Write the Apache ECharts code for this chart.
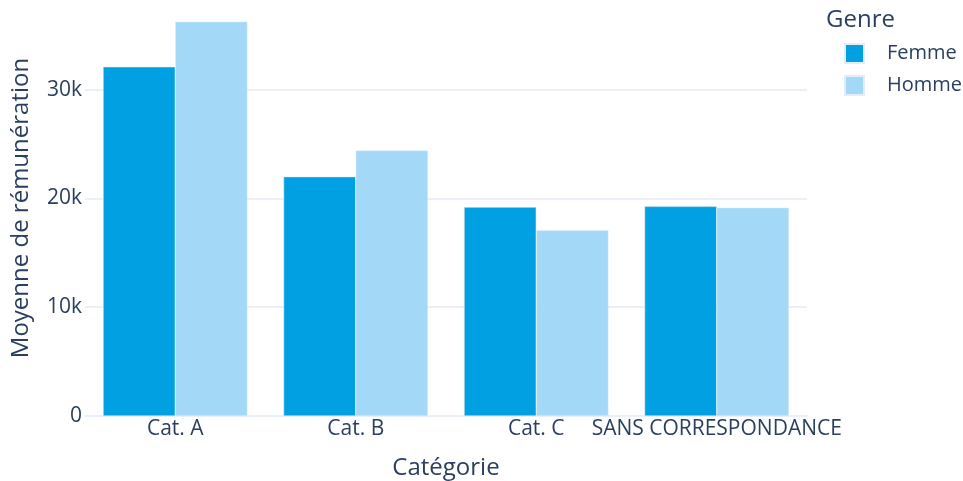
<!DOCTYPE html>
<html>
<head>
<meta charset="utf-8">
<script src="https://cdn.jsdelivr.net/npm/echarts@6/dist/echarts.min.js"></script>
<style>html,body{margin:0;padding:0;background:#fff}#c{width:963px;height:481px}</style>
</head>
<body>
<div id="c"></div>
<script>
const categories = ["Cat. A", "Cat. B", "Cat. C", "SANS CORRESPONDANCE"];
const femme = [32100, 22000, 19200, 19270];
const homme = [36240, 24400, 17070, 19150];
const seriesNames = ["Femme", "Homme"];
const yTicks = [0, 10000, 20000, 30000];

const FONT = '"Open Sans", verdana, arial, sans-serif';
const TXT = '#2a3f5f';
const chart = echarts.init(document.getElementById('c'), null, {renderer: 'canvas'});
chart.setOption({
  animation: false,
  textStyle: {fontFamily: FONT},
  title: {
    text: 'Genre', left: 821, top: 3,
    textStyle: {fontFamily: FONT, fontSize: 24, fontWeight: 'normal', color: TXT}
  },
  legend: {
    orient: 'vertical', left: 839, top: 38,
    itemWidth: 19, itemHeight: 19, itemGap: 11,
    icon: 'rect',
    data: seriesNames,
    textStyle: {fontFamily: FONT, fontSize: 20, color: TXT, padding: [0, 0, 0, 18]}
  },
  grid: {left: 85, right: 156, top: 20, bottom: 65, containLabel: false, outerBoundsMode: 'none'},
  xAxis: {
    type: 'category', data: categories,
    name: 'Catégorie', nameLocation: 'middle', nameGap: 40,
    nameTextStyle: {fontFamily: FONT, fontSize: 24, color: TXT},
    axisLine: {show: true, lineStyle: {color: '#EBF0F8', width: 2}},
    axisTick: {show: false},
    axisLabel: {fontFamily: FONT, fontSize: 21, color: TXT, margin: 3, interval: 0}
  },
  yAxis: {
    type: 'value', min: 0, max: 36400, interval: 10000,
    name: 'Moyenne de rémunération', nameLocation: 'middle', nameGap: 52,
    nameTextStyle: {fontFamily: FONT, fontSize: 24, color: TXT, padding: [0, 0, 0, 20]},
    axisLine: {show: false}, axisTick: {show: false},
    splitLine: {showMaxLine: false, lineStyle: {color: '#EBF0F8', width: 2}},
    axisLabel: {
      fontFamily: FONT, fontSize: 21, color: TXT, margin: 3,
      showMaxLabel: false,
      formatter: v => yTicks.includes(v) ? (v === 0 ? '0' : (v / 1000) + 'k') : ''
    }
  },
  series: [
    {name: seriesNames[0], type: 'bar', data: femme, barGap: '0%', barCategoryGap: '20%',
     itemStyle: {color: '#00A0E3', borderColor: '#E5ECF6', borderWidth: 0.5}},
    {name: seriesNames[1], type: 'bar', data: homme, barGap: '0%', barCategoryGap: '20%',
     itemStyle: {color: '#A3D9F7', borderColor: '#E5ECF6', borderWidth: 0.5}}
  ]
});
</script>
</body>
</html>
